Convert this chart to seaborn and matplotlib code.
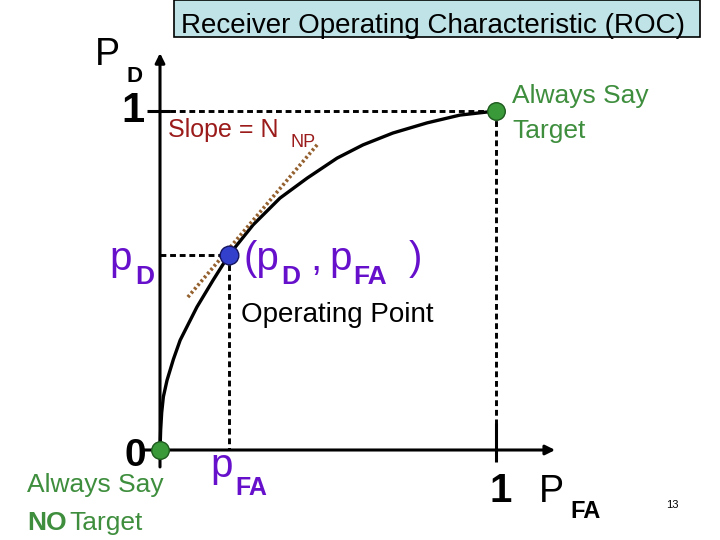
import numpy as np
import pandas as pd
import matplotlib
matplotlib.use("Agg")
import matplotlib.pyplot as plt
from matplotlib.patches import Rectangle
import seaborn as sns

# ROC curve (P_FA, P_D)
roc_pfa = [0.0, 0.002, 0.005, 0.010, 0.021, 0.040, 0.060, 0.110, 0.158, 0.205,
           0.277, 0.357, 0.438, 0.527, 0.604, 0.693, 0.795, 0.893, 1.0]
roc_pd = [0.0, 0.060, 0.110, 0.157, 0.206, 0.268, 0.324, 0.422, 0.501, 0.575,
          0.664, 0.743, 0.802, 0.861, 0.900, 0.935, 0.965, 0.988, 1.0]

# operating point and the two end points
op_pfa = [0.205]
op_pd = [0.575]
end_pfa = [0.0, 1.0]
end_pd = [0.0, 1.0]

# tangent (slope = N_NP) through the operating point
tan_pfa = [0.083, 0.470]
tan_pd = [0.451, 0.903]

title = "Receiver Operating Characteristic (ROC)"

purple = "#6610CC"
green_txt = "#3E8E3E"
red_txt = "#9B1B1B"

sns.set_style("white")
plt.rcParams['font.family'] = ['Liberation Sans', 'DejaVu Sans']

W, H = 720, 540
fig = plt.figure(figsize=(7.2, 5.4), dpi=100)
ax = fig.add_axes([0, 0, 1, 1])
# x=0 at px 160, x=1 at px 496 ; y=0 at py 450, y=1 at py 111
ax.set_xlim(-160 / 336, (W - 160) / 336)
ax.set_ylim(-(H - 450) / 339, 450 / 339)
ax.axis("off")


def px(x, y):
    return x / W, 1 - y / H


def txt(x, y, s, size, color="black", weight="normal", ha="left"):
    fig.text(*px(x, y), s, fontsize=size, color=color, fontweight=weight,
             ha=ha, va="baseline")


# title box
fig.patches.append(Rectangle(px(174, 37), (700 - 174) / W, 37 / H,
                             transform=fig.transFigure, facecolor="#BFE3E7",
                             edgecolor="black", lw=1.2))
txt(181, 33, title, 20)

# axes with arrows
ax.annotate("", xy=(1.176, 0), xytext=(-0.054, 0),
            arrowprops=dict(arrowstyle="-|>", lw=2.2, color="black",
                            mutation_scale=14, shrinkA=0, shrinkB=0))
ax.annotate("", xy=(0, 1.171), xytext=(0, -0.050),
            arrowprops=dict(arrowstyle="-|>", lw=2.2, color="black",
                            mutation_scale=14, shrinkA=0, shrinkB=0))
# ticks at 1
ax.plot([-0.039, 0.030], [1, 1], color="black", lw=2.2, solid_capstyle="butt")
ax.plot([1, 1], [0.080, -0.035], color="black", lw=2.2, solid_capstyle="butt")

# dashed guides
dash = dict(color="black", lw=2.1, dashes=(2.0, 1.3))
ax.plot([0, end_pfa[1]], [end_pd[1], end_pd[1]], **dash)
ax.plot([end_pfa[1], end_pfa[1]], [end_pd[1], 0], **dash)
ax.plot([0, op_pfa[0]], [op_pd[0], op_pd[0]], **dash)
ax.plot([op_pfa[0], op_pfa[0]], [op_pd[0], 0], **dash)

# ROC curve
roc = pd.DataFrame({"pfa": roc_pfa, "pd": roc_pd})
sns.lineplot(data=roc, x="pfa", y="pd", sort=False, color="black", lw=2.4,
             ax=ax, legend=False)

# tangent
tan = pd.DataFrame({"pfa": tan_pfa, "pd": tan_pd})
sns.lineplot(data=tan, x="pfa", y="pd", sort=False, color="#94602E", lw=2.6,
             linestyle=(0, (0.7, 0.7)), ax=ax, legend=False)

# points
sns.scatterplot(x=end_pfa, y=end_pd, s=160, color="#3A9A3A",
                edgecolor="#1E5A1E", linewidth=1, ax=ax, zorder=5)
sns.scatterplot(x=op_pfa, y=op_pd, s=180, color="#3340CC",
                edgecolor="#151560", linewidth=1, ax=ax, zorder=5)

# labels
txt(95, 65, "P", 27)
txt(127, 82, "D", 16, weight="bold")
txt(145, 122, "1", 30, weight="bold", ha="right")

txt(168, 137, "Slope = N", 18, color=red_txt)
txt(291, 147, "NP", 13, color=red_txt)

txt(109, 270, "p", 29, color=purple)
txt(135, 284, "D", 19, color=purple, weight="bold")

txt(243, 270, "(p", 29, color=purple)
txt(281, 284, "D", 19, color=purple, weight="bold")
txt(310, 270, ",", 29, color=purple)
txt(329, 270, "p", 29, color=purple)
txt(353, 284, "FA", 19, color=purple, weight="bold")
txt(409, 270, ")", 29, color=purple)

txt(241, 322, "Operating Point", 20)

txt(512, 103, "Always Say", 19, color=green_txt)
txt(512, 138, "Target", 19, color=green_txt)

txt(146, 466, "0", 28, weight="bold", ha="right")
txt(27, 492, "Always Say", 19, color=green_txt)
txt(27, 530, "NO", 19, color=green_txt, weight="bold")
txt(69, 530, "Target", 19, color=green_txt)

txt(210, 477, "p", 29, color=purple)
txt(235, 495, "FA", 18, color=purple, weight="bold")

txt(512, 502, "1", 29, weight="bold", ha="right")
txt(539, 502, "P", 27)
txt(570, 518, "FA", 17, weight="bold")
txt(666, 508, "13", 8)

fig.savefig("out.png", dpi=100, facecolor="white")
